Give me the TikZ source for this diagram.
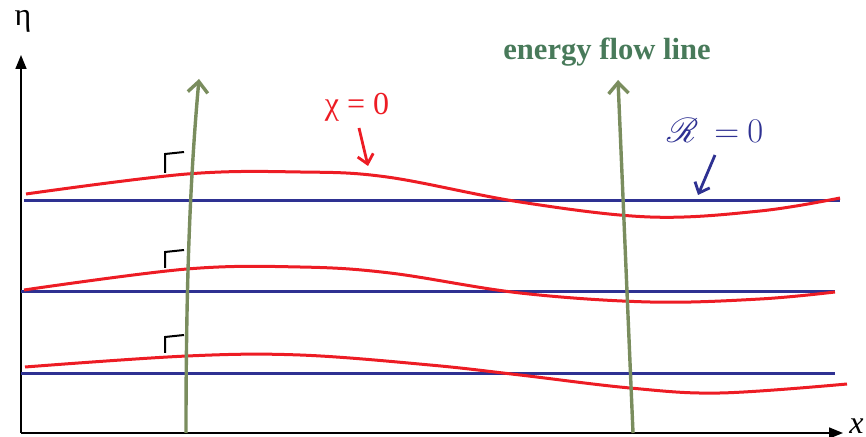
\documentclass[tikz,border=0pt]{standalone}
\usepackage{fontspec}
\usepackage{mathrsfs}
\setmainfont{Liberation Serif}
\usetikzlibrary{arrows.meta}

\definecolor{chired}{RGB}{237,28,36}
\definecolor{calblue}{RGB}{46,49,146}
\definecolor{flowgreen}{RGB}{122,141,94}
\definecolor{flowtext}{RGB}{72,122,90}

\begin{document}
\begin{tikzpicture}[x=0.5pt, y=-0.5pt,
    axis/.style={line width=0.8pt, -{Triangle[length=7pt, width=5.5pt]}},
    chiline/.style={chired, line width=1.5pt},
    Rline/.style={calblue, line width=1.5pt},
    flowline/.style={flowgreen, line width=1.7pt, -{Straight Barb[length=5.5pt, width=10pt]}},
    pointer/.style={line width=1.4pt, -{Straight Barb[length=4.5pt, width=8pt]}},
    rightang/.style={line width=1pt},
    lbl/.style={inner sep=0pt, font=\fontsize{16}{18}\selectfont}]
  \useasboundingbox (0,0) rectangle (866,437);

  % axes
  \coordinate (O) at (21,433);
  \coordinate (ytop) at (21,55);
  \coordinate (xend) at (843,433);
  \draw[axis] (O) -- (ytop);
  \draw[axis] (O) -- (xend);
  \node[lbl] (eta) at (23,21) {η};
  \node[lbl, anchor=base east] (xlab) at (864,433) {\itshape x};

  % R = 0 levels
  \foreach \yy/\xa/\xb in {201/24/840, 292/21/835, 374/21/835}
    \draw[Rline] (\xa,\yy) -- (\xb,\yy);

  % chi = 0 curves
  \draw[chiline] plot[smooth, tension=0.6] coordinates {(26,194) (187,174)
    (300,172) (387,177) (520,202) (650,217) (760,211) (840,198)};
  \draw[chiline] plot[smooth, tension=0.6] coordinates {(24,290) (187,269)
    (300,267) (390,273) (520,293) (650,302) (760,299) (835,292)};
  \draw[chiline] plot[smooth, tension=0.6] coordinates {(25,367) (187,356)
    (300,355) (430,365) (520,375) (630,388) (720,393) (847,384)};

  % right angle marks
  \foreach \yc/\yb in {154/173, 252/268, 337/353}
    \draw[rightang] (184,\yc-2) -- (165,\yc) -- (165,\yb);

  % energy flow lines
  \coordinate (fl1a) at (186,433);
  \coordinate (fl1b) at (199,79);
  \coordinate (fl2a) at (633,433);
  \coordinate (fl2b) at (618,80);
  \draw[flowline] (fl1a) .. controls (186,300) and (189,190) .. (fl1b);
  \draw[flowline] (fl2a) -- (fl2b);
  \node[font=\fontsize{15.3}{18}\selectfont\bfseries, text=flowtext, inner sep=0pt]
    (flow) at (607,52) {energy flow line};

  % labels
  \node[lbl, text=chired] (chi) at (357,107) {χ = 0};
  \coordinate (chitip) at (368,166);
  \draw[pointer, chired] (359,128) -- (chitip);

  \node[lbl, text=calblue] (calR) at (715,130) {$\mathscr{R}\ \ {=}\ 0$};
  \coordinate (Rtip) at (698,195);
  \draw[pointer, calblue] (715,155) -- (Rtip);
\end{tikzpicture}
\end{document}
